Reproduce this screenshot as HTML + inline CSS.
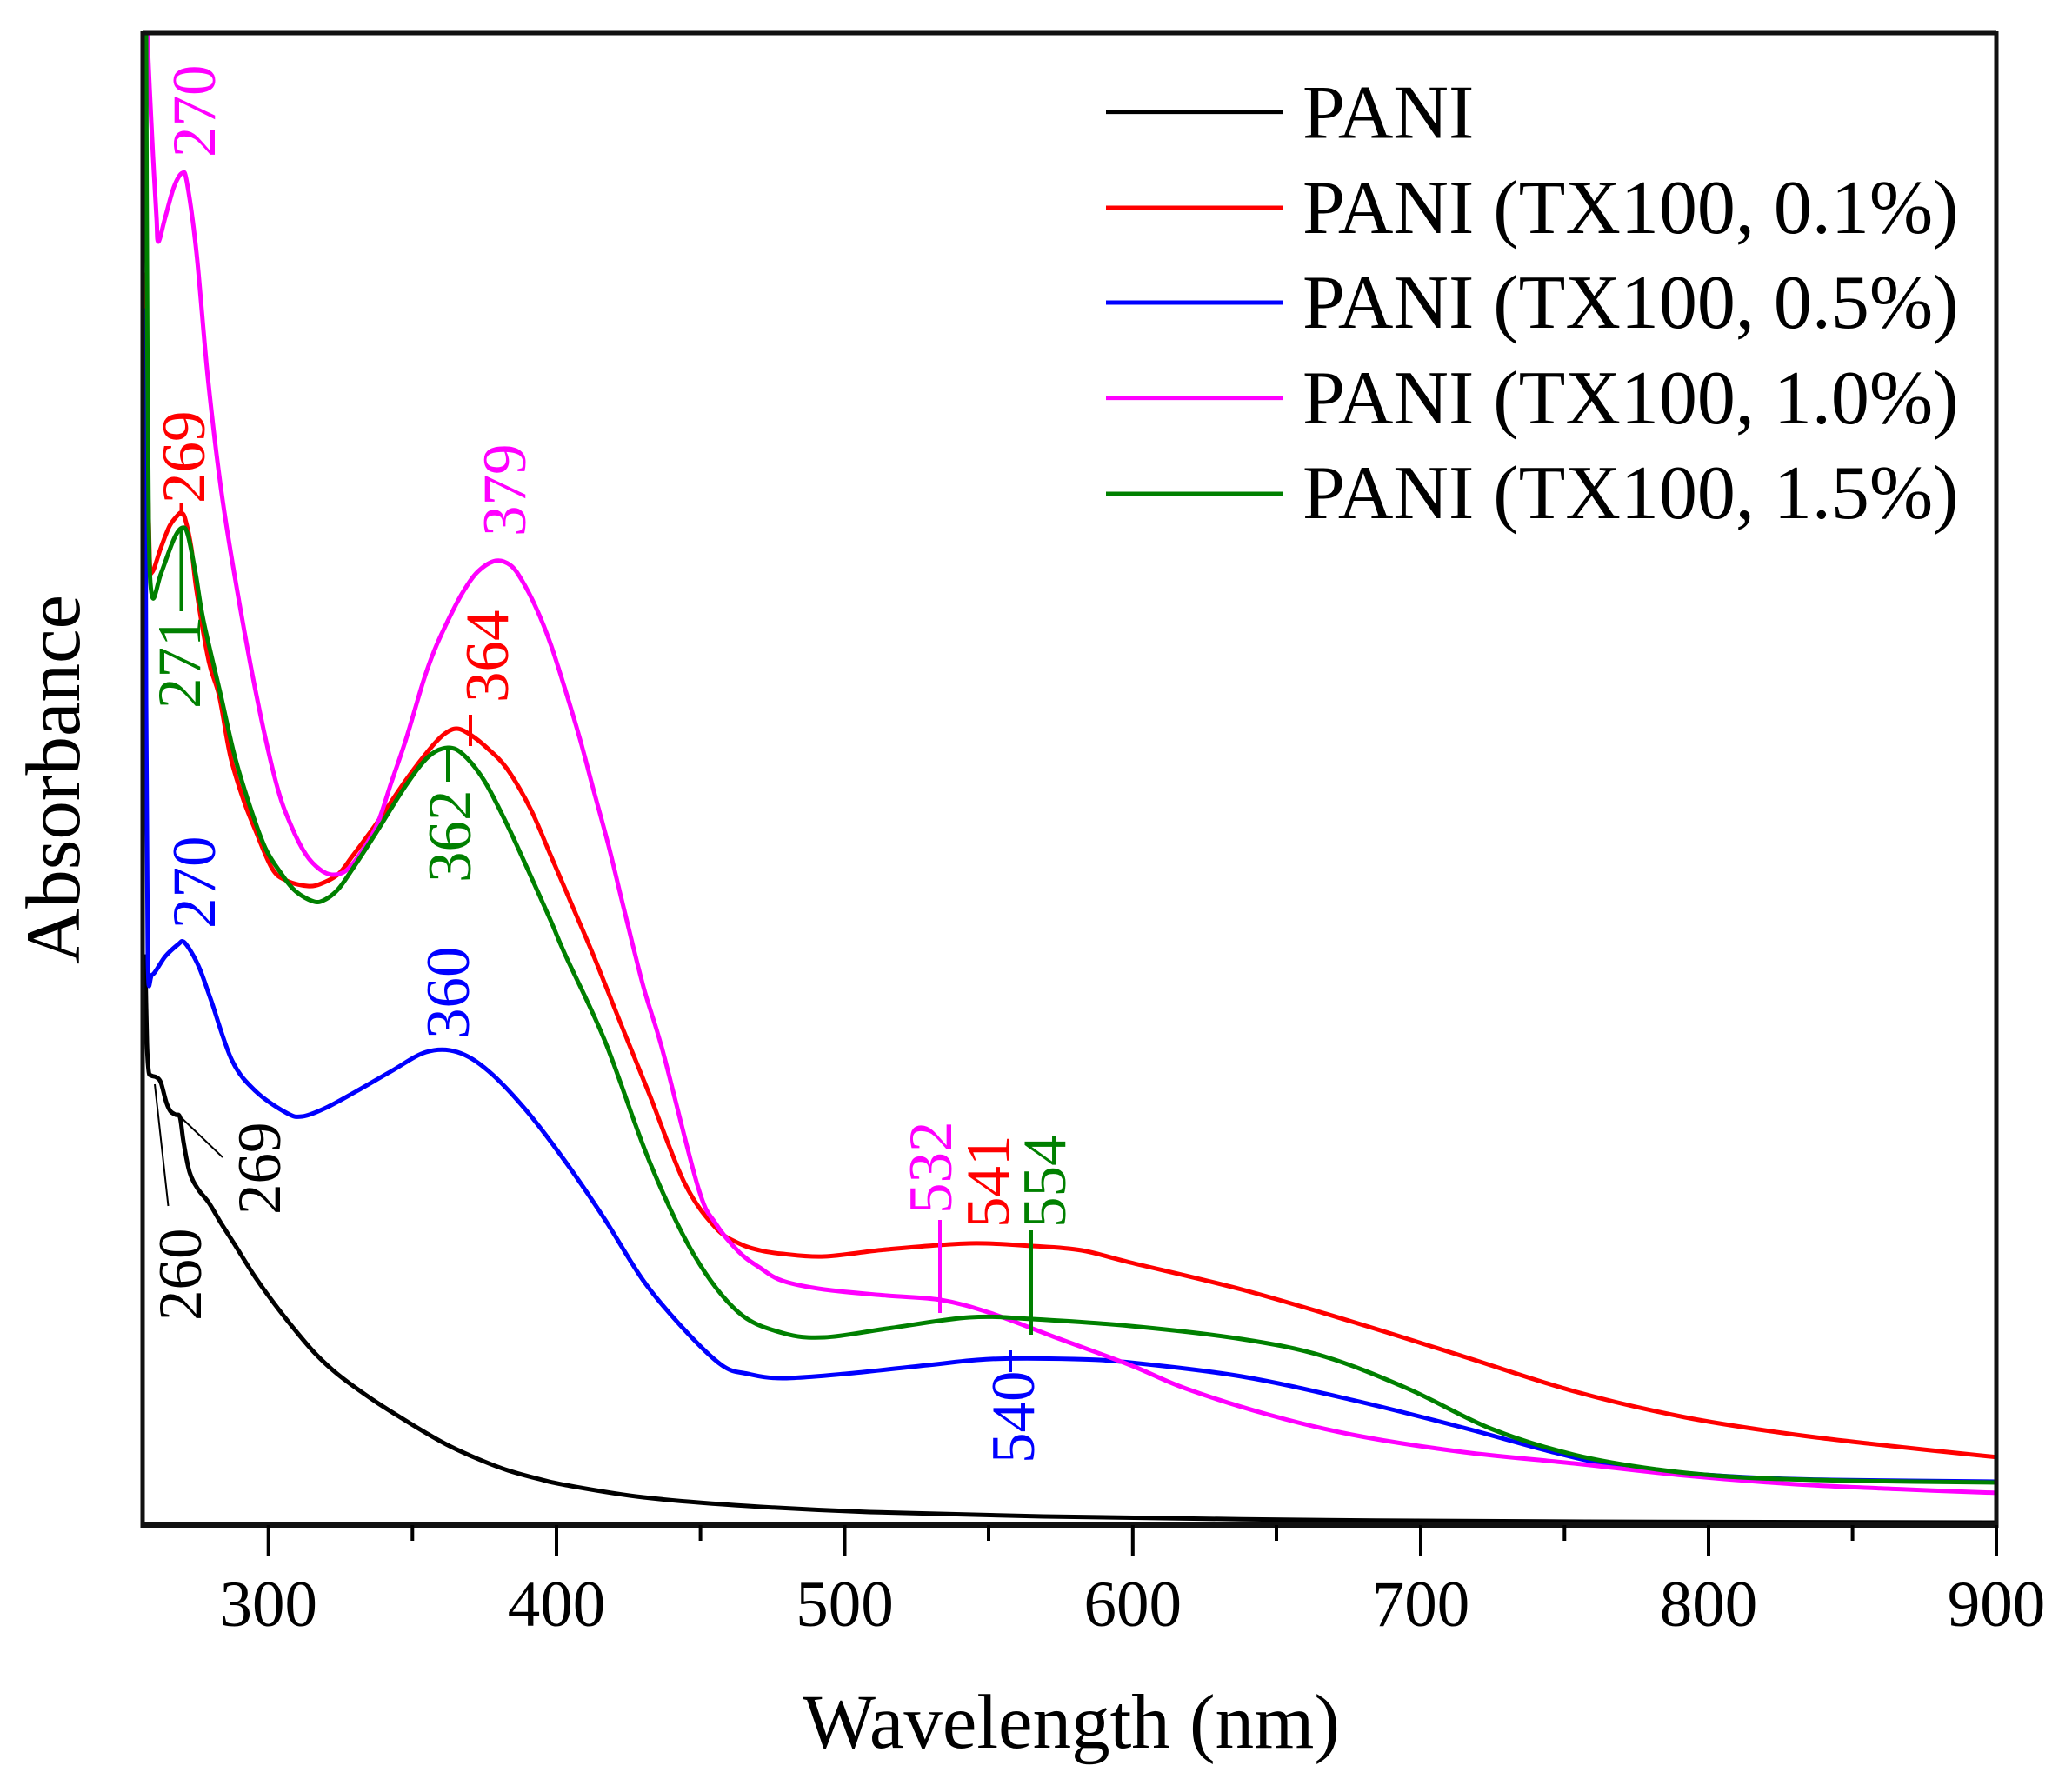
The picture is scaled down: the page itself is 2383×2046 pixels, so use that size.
<!DOCTYPE html>
<html>
<head>
<meta charset="utf-8">
<style>
  html,body{margin:0;padding:0;background:#fff;}
  svg{display:block;}
  text{font-family:"Liberation Serif","Times New Roman",serif;}
</style>
</head>
<body>
<svg id="chart" width="2383" height="2046" viewBox="0 0 2383 2046" xmlns="http://www.w3.org/2000/svg">
  <rect width="2383" height="2046" fill="#fff"/>
  <defs>
    <clipPath id="plotclip"><rect x="164" y="38" width="2132" height="1716"/></clipPath>
  </defs>

  <g clip-path="url(#plotclip)" fill="none" stroke-width="5" stroke-linejoin="round" stroke-linecap="round">
    <polyline id="c-black" stroke="#000" points=""/>
    <polyline id="c-red" stroke="#ff0000" points=""/>
    <polyline id="c-blue" stroke="#0000ff" points=""/>
    <polyline id="c-mag" stroke="#ff00ff" points=""/>
    <polyline id="c-green" stroke="#008000" points=""/>
  </g>

  <!-- peak marker lines -->
  <g stroke-width="4">
    <line x1="208.5" y1="578" x2="208.5" y2="594" stroke="#ff0000"/>
    <line x1="208.5" y1="607" x2="208.5" y2="703" stroke="#008000"/>
    <line x1="541" y1="822" x2="541" y2="858" stroke="#ff0000"/>
    <line x1="515" y1="859" x2="515" y2="899" stroke="#008000"/>
    <line x1="1081" y1="1403" x2="1081" y2="1510" stroke="#ff00ff"/>
    <line x1="1186" y1="1415" x2="1186" y2="1535" stroke="#008000"/>
    <line x1="1162" y1="1553" x2="1162" y2="1578" stroke="#0000ff"/>
  </g>
  <g stroke="#000" stroke-width="2">
    <line x1="178" y1="1247" x2="193.5" y2="1387"/>
    <line x1="207" y1="1284" x2="256" y2="1331"/>
  </g>

  <!-- frame -->
  <g stroke="#111" fill="none">
    <line x1="164" y1="38" x2="2296" y2="38" stroke-width="5"/>
    <line x1="2296" y1="36" x2="2296" y2="1757" stroke-width="5"/>
    <line x1="164" y1="36" x2="164" y2="1757" stroke-width="5"/>
    <line x1="162" y1="1754" x2="2298" y2="1754" stroke-width="6"/>
  </g>
  <!-- x ticks -->
  <g stroke="#000" stroke-width="4">
    <line x1="308.7" y1="1754" x2="308.7" y2="1790"/>
    <line x1="640" y1="1754" x2="640" y2="1790"/>
    <line x1="971.5" y1="1754" x2="971.5" y2="1790"/>
    <line x1="1302.8" y1="1754" x2="1302.8" y2="1790"/>
    <line x1="1634" y1="1754" x2="1634" y2="1790"/>
    <line x1="1965" y1="1754" x2="1965" y2="1790"/>
    <line x1="2296" y1="1754" x2="2296" y2="1790"/>
    <line x1="474.3" y1="1754" x2="474.3" y2="1772"/>
    <line x1="805.6" y1="1754" x2="805.6" y2="1772"/>
    <line x1="1137" y1="1754" x2="1137" y2="1772"/>
    <line x1="1468" y1="1754" x2="1468" y2="1772"/>
    <line x1="1799.3" y1="1754" x2="1799.3" y2="1772"/>
    <line x1="2130.6" y1="1754" x2="2130.6" y2="1772"/>
  </g>
  <!-- x tick labels -->
  <g font-size="75" fill="#000" text-anchor="middle">
    <text x="308.7" y="1870">300</text>
    <text x="640" y="1870">400</text>
    <text x="971.5" y="1870">500</text>
    <text x="1302.8" y="1870">600</text>
    <text x="1634" y="1870">700</text>
    <text x="1965" y="1870">800</text>
    <text x="2296" y="1870">900</text>
  </g>
  <!-- axis titles -->
  <text x="1232" y="2010" font-size="89" text-anchor="middle" fill="#000">Wavelength (nm)</text>
  <text transform="translate(91,896.5) rotate(-90)" font-size="89" text-anchor="middle" fill="#000">Absorbance</text>

  <!-- peak labels (rotated) -->
  <g font-size="71">
    <text transform="translate(247,181) rotate(-90)" fill="#ff00ff">270</text>
    <text transform="translate(235,579) rotate(-90)" fill="#ff0000">269</text>
    <text transform="translate(230,815) rotate(-90)" fill="#008000">271</text>
    <text transform="translate(604,617) rotate(-90)" fill="#ff00ff">379</text>
    <text transform="translate(584,808) rotate(-90)" fill="#ff0000">364</text>
    <text transform="translate(541,1015) rotate(-90)" fill="#008000">362</text>
    <text transform="translate(247,1068) rotate(-90)" fill="#0000ff">270</text>
    <text transform="translate(539,1195) rotate(-90)" fill="#0000ff">360</text>
    <text transform="translate(322,1397) rotate(-90)" fill="#000">269</text>
    <text transform="translate(231,1519) rotate(-90)" fill="#000">260</text>
    <text transform="translate(1094,1396) rotate(-90)" fill="#ff00ff">532</text>
    <text transform="translate(1160,1412) rotate(-90)" fill="#ff0000">541</text>
    <text transform="translate(1225,1412) rotate(-90)" fill="#008000">554</text>
    <text transform="translate(1189,1683) rotate(-90)" fill="#0000ff">540</text>
  </g>

  <!-- legend -->
  <g stroke-width="5">
    <line x1="1272" y1="128.6" x2="1475" y2="128.6" stroke="#000"/>
    <line x1="1272" y1="239" x2="1475" y2="239" stroke="#ff0000"/>
    <line x1="1272" y1="348" x2="1475" y2="348" stroke="#0000ff"/>
    <line x1="1272" y1="457.6" x2="1475" y2="457.6" stroke="#ff00ff"/>
    <line x1="1272" y1="568" x2="1475" y2="568" stroke="#008000"/>
  </g>
  <g font-size="88" fill="#000">
    <text x="1498" y="158.5">PANI</text>
    <text x="1498" y="268">PANI (TX100, 0.1%)</text>
    <text x="1498" y="377">PANI (TX100, 0.5%)</text>
    <text x="1498" y="487">PANI (TX100, 1.0%)</text>
    <text x="1498" y="596">PANI (TX100, 1.5%)</text>
  </g>
</svg>

<script>
(function(){
  var data = {
    "c-black": [[167,1100],[169,1200],[171,1232],[174,1237],[180,1239],[185,1245],[191,1267],[196,1278],[202,1282],[207,1285],[211,1313],[218,1348],[228,1368],[240,1383],[255,1408],[271.6,1434],[293,1468],[316,1500],[338,1528],[361,1555],[383,1576],[405.5,1593.5],[435,1614],[463.6,1632],[490,1648],[517,1663],[550,1678],[584,1691],[620,1701],[651,1708],[740,1722],[860,1732],[1000,1739],[1200,1744],[1500,1748],[1824,1750],[2298,1751]],
    "c-red": [[167,316],[169,500],[172,640],[175,658],[185,630],[195,605],[204,593],[208.5,590],[213,597],[220,630],[226,679],[240,760],[252,800],[265,870],[280,920],[293,953],[313,999],[330,1013],[354,1019],[370,1016],[389.5,1005],[405,985],[433,947],[467,897],[493,863],[510,845],[525,838],[541,845],[560,860],[583,884],[610,930],[633,983],[660,1046],[683,1100],[715,1180],[747,1259],[787.5,1361],[823,1412],[850,1430],[874,1438],[900,1442],[948,1445],[1020,1437],[1115,1430],[1187,1433],[1244,1438],[1300,1452],[1428,1483],[1555,1520],[1683,1560],[1810,1600],[1938,1630],[2065,1650],[2193,1665],[2298,1676]],
    "c-blue": [[167,357],[168,800],[170,1105],[175,1121],[190,1100],[205,1086],[211,1083],[220,1095],[230,1115],[242.6,1150],[267,1220],[294,1255],[329.6,1280],[347.5,1284],[374,1274.5],[410,1255],[450,1232],[490,1210],[526,1210],[562,1232],[606,1278],[651,1337],[696,1403],[740,1473],[785,1527],[830,1570],[860,1580],[900,1585],[972,1580],[1067,1570],[1139,1563],[1235,1563],[1300,1567],[1428,1583],[1555,1610],[1683,1642],[1778,1668],[1842,1683],[1912,1692],[2009,1699],[2107,1702],[2298,1704]],
    "c-mag": [[169,30],[172,100],[176,180],[180,250],[182,278],[190,250],[200,215],[209.5,199],[215,210],[226,291],[239,434],[254,561],[270,663],[295,800],[318,902],[335,950],[352,983],[368,1000],[382,1006],[397,1002],[412,985],[433,950],[450,900],[467,850],[487,783],[500,747],[517,710],[533,680],[550,657],[570,645],[587,650],[600,667],[617,700],[633,740],[650,793],[667,850],[683,910],[700,973],[717,1043],[740,1135],[762,1208],[803,1366],[823,1407],[850,1440],[874,1458],[900,1473],[948,1483],[1020,1490],[1082,1495],[1139,1510],[1211,1537],[1300,1570],[1364,1597],[1459,1627],[1555,1650],[1683,1670],[1810,1683],[1938,1697],[2065,1707],[2193,1713],[2298,1717]],
    "c-green": [[168,30],[169,300],[171,600],[175,686],[185,660],[200,620],[209.5,607],[216,615],[225,660],[234,714],[254,800],[270,870],[287.5,927.5],[305,975],[323,1004],[340,1025],[361.5,1037],[375,1034],[389.5,1022],[405,1000],[433,957],[467,903],[493,870],[515,860],[533,868],[557,898],[583,948],[607,1000],[633,1058],[650,1098],[696,1198],[747,1336],[798,1443],[849,1509],[900,1533],[948,1538],[1020,1528],[1115,1515],[1187,1517],[1300,1525],[1428,1540],[1523,1560],[1619,1597],[1714.5,1643],[1810,1673],[1906,1690],[2001.5,1699],[2129,1703],[2298,1705]]
  };
  var NS = "http://www.w3.org/2000/svg";
  function crPath(p){
    var d = "M" + p[0][0] + "," + p[0][1];
    for (var i=0;i<p.length-1;i++){
      var p0 = p[i-1]||p[i], p1=p[i], p2=p[i+1], p3=p[i+2]||p[i+1];
      var c1x = p1[0]+(p2[0]-p0[0])/6, c1y = p1[1]+(p2[1]-p0[1])/6;
      var c2x = p2[0]-(p3[0]-p1[0])/6, c2y = p2[1]-(p3[1]-p1[1])/6;
      d += " C"+c1x.toFixed(1)+","+c1y.toFixed(1)+" "+c2x.toFixed(1)+","+c2y.toFixed(1)+" "+p2[0]+","+p2[1];
    }
    return d;
  }
  for (var id in data){
    var pl = document.getElementById(id);
    if(!pl) continue;
    var pts = data[id];
    pl.setAttribute("points", pts.map(function(q){return q[0]+","+q[1];}).join(" "));
    try{
      var path = document.createElementNS(NS,"path");
      path.setAttribute("d", crPath(pts));
      path.setAttribute("stroke", pl.getAttribute("stroke"));
      path.setAttribute("fill","none");
      pl.parentNode.replaceChild(path, pl);
    }catch(e){}
  }
})();
</script>
</body>
</html>
